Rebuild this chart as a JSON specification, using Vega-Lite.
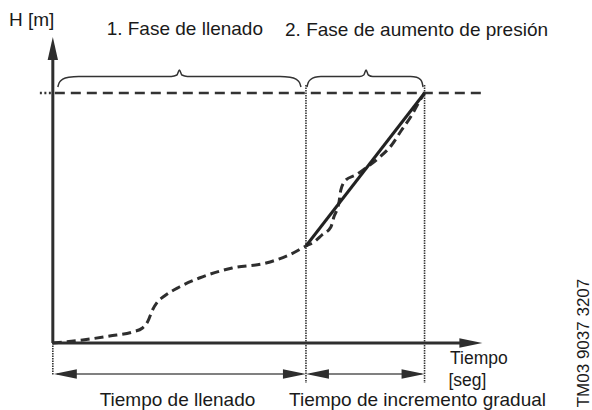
{
  "$schema": "https://vega.github.io/schema/vega-lite/v6.json",
  "width": 592,
  "height": 410,
  "padding": 0,
  "autosize": {"type": "fit", "contains": "padding"},
  "background": "white",
  "config": {"view": {"stroke": null}, "text": {"font": "Liberation Sans", "color": "#1a1a1a"}},
  "datasets": {
    "axes": [
      {"id": "y", "o": 0, "t": 0, "h": 0}, {"id": "y", "o": 1, "t": 0, "h": 285},
      {"id": "x", "o": 0, "t": 0, "h": 0}, {"id": "x", "o": 1, "t": 412, "h": 0}
    ],
    "lead": [{"o": 0, "t": -13, "h": 250}, {"o": 1, "t": -1, "h": 250}],
    "target": [{"o": 0, "t": 2, "h": 250}, {"o": 1, "t": 432, "h": 250}],
    "guides": [
      {"id": "a", "o": 0, "t": 254, "h": 258}, {"id": "a", "o": 1, "t": 254, "h": -40},
      {"id": "b", "o": 0, "t": 373, "h": 258}, {"id": "b", "o": 1, "t": 373, "h": -40},
      {"id": "c", "o": 0, "t": 0, "h": 0}, {"id": "c", "o": 1, "t": 0, "h": -32}
    ],
    "spans": [
      {"id": "fill", "o": 0, "t": 4, "h": -31}, {"id": "fill", "o": 1, "t": 250, "h": -31},
      {"id": "ramp", "o": 0, "t": 258, "h": -31}, {"id": "ramp", "o": 1, "t": 370, "h": -31}
    ],
    "heads": [
      {"dir": "up", "t": 0, "h": 306},
      {"dir": "right", "t": 431, "h": 0},
      {"dir": "left", "t": 1, "h": -31},
      {"dir": "right", "t": 254, "h": -31},
      {"dir": "left", "t": 254, "h": -31},
      {"dir": "right", "t": 373, "h": -31}
    ],
    "braces": [
      {"id": "b1", "t": 5, "h": 256}, {"id": "b1", "t": 6.5, "h": 260.5}, {"id": "b1", "t": 10, "h": 263.8}, {"id": "b1", "t": 16, "h": 265.8}, {"id": "b1", "t": 26, "h": 266.6},
      {"id": "b1", "t": 119, "h": 266.6}, {"id": "b1", "t": 124.5, "h": 268}, {"id": "b1", "t": 127, "h": 273},
      {"id": "b1", "t": 129.5, "h": 268}, {"id": "b1", "t": 135, "h": 266.6}, {"id": "b1", "t": 228, "h": 266.6},
      {"id": "b1", "t": 238, "h": 265.8}, {"id": "b1", "t": 244, "h": 263.8}, {"id": "b1", "t": 247.5, "h": 260.5}, {"id": "b1", "t": 249, "h": 256},
      {"id": "b2", "t": 255, "h": 256}, {"id": "b2", "t": 256.3, "h": 260.5}, {"id": "b2", "t": 259, "h": 263.8}, {"id": "b2", "t": 263, "h": 265.8}, {"id": "b2", "t": 269, "h": 266.6},
      {"id": "b2", "t": 308, "h": 266.6}, {"id": "b2", "t": 312, "h": 268}, {"id": "b2", "t": 314.3, "h": 273},
      {"id": "b2", "t": 316.6, "h": 268}, {"id": "b2", "t": 321, "h": 266.6}, {"id": "b2", "t": 359, "h": 266.6},
      {"id": "b2", "t": 365, "h": 265.8}, {"id": "b2", "t": 368.5, "h": 263.8}, {"id": "b2", "t": 370.5, "h": 260.5}, {"id": "b2", "t": 371.5, "h": 256}
    ],
    "actual": [
      {"t": 0, "h": 0}, {"t": 30, "h": 3}, {"t": 57, "h": 7}, {"t": 80, "h": 11}, {"t": 90, "h": 15},
      {"t": 95, "h": 21}, {"t": 100, "h": 33}, {"t": 105, "h": 41}, {"t": 112, "h": 47}, {"t": 127, "h": 56},
      {"t": 147, "h": 65}, {"t": 180, "h": 75}, {"t": 214, "h": 80}, {"t": 237, "h": 88}, {"t": 254, "h": 97},
      {"t": 262, "h": 101}, {"t": 270, "h": 108}, {"t": 279, "h": 116}, {"t": 282, "h": 126}, {"t": 287, "h": 140},
      {"t": 289, "h": 153}, {"t": 294, "h": 163}, {"t": 304, "h": 168}, {"t": 314, "h": 175}, {"t": 327, "h": 185},
      {"t": 340, "h": 198}, {"t": 350, "h": 213}, {"t": 359, "h": 226}, {"t": 368, "h": 242}, {"t": 373, "h": 250}
    ],
    "ideal": [{"t": 254, "h": 97}, {"t": 373, "h": 250}],
    "labels": [
      {"label": "H [m]", "t": -44, "h": 317},
      {"label": "1. Fase de llenado", "t": 54, "h": 308},
      {"label": "2. Fase de aumento de presión", "t": 233, "h": 307},
      {"label": "Tiempo de llenado", "t": 47, "h": -63},
      {"label": "Tiempo de incremento gradual", "t": 237, "h": -63}
    ],
    "xlabel": [{"label": "Tiempo", "t": 398.5, "h": -20.5}, {"label": "[seg]", "t": 397, "h": -42.5}],
    "code": [{"label": "TM03 9037 3207", "t": 538, "h": 0}]
  },
  "encoding": {
    "x": {"field": "t", "type": "quantitative", "scale": {"domain": [-53, 539], "nice": false, "zero": false}, "axis": null},
    "y": {"field": "h", "type": "quantitative", "scale": {"domain": [-67, 343], "nice": false, "zero": false}, "axis": null}
  },
  "layer": [
    {"data": {"name": "guides"}, "mark": {"type": "line", "stroke": "#333", "strokeWidth": 1.6, "strokeDash": [1.5, 1]},
     "encoding": {"detail": {"field": "id"}, "order": {"field": "o"}}},
    {"data": {"name": "lead"}, "mark": {"type": "line", "stroke": "#333", "strokeWidth": 2.4, "strokeDash": [2, 2.5]},
     "encoding": {"order": {"field": "o"}}},
    {"data": {"name": "target"}, "mark": {"type": "line", "stroke": "#333", "strokeWidth": 2.6, "strokeDash": [10, 6]},
     "encoding": {"order": {"field": "o"}}},
    {"data": {"name": "spans"}, "mark": {"type": "line", "stroke": "#808080", "strokeWidth": 2},
     "encoding": {"detail": {"field": "id"}, "order": {"field": "o"}}},
    {"data": {"name": "braces"}, "mark": {"type": "line", "stroke": "#333", "strokeWidth": 1.5, "interpolate": "monotone"},
     "encoding": {"detail": {"field": "id"}}},
    {"data": {"name": "axes"}, "mark": {"type": "line", "stroke": "#2e2e2e", "strokeWidth": 3},
     "encoding": {"detail": {"field": "id"}, "order": {"field": "o"}}},
    {"data": {"name": "actual"}, "mark": {"type": "line", "stroke": "#2e2e2e", "strokeWidth": 3, "strokeDash": [9, 5], "interpolate": "monotone"}},
    {"data": {"name": "ideal"}, "mark": {"type": "line", "stroke": "#222", "strokeWidth": 3}},
    {"data": {"name": "heads"}, "mark": {"type": "point", "filled": true, "opacity": 1, "color": "#2e2e2e", "strokeWidth": 0, "size": 529},
     "encoding": {"shape": {"field": "dir", "type": "nominal", "legend": null,
       "scale": {"domain": ["up", "right", "left"], "range": ["M 0 0 L 0.45 2 L -0.45 2 Z", "M 0 0 L -2 -0.42 L -2 0.42 Z", "M 0 0 L 2 -0.42 L 2 0.42 Z"]}}}},
    {"data": {"name": "labels"}, "mark": {"type": "text", "align": "left", "baseline": "alphabetic", "fontSize": 19},
     "encoding": {"text": {"field": "label"}}},
    {"data": {"name": "xlabel"}, "mark": {"type": "text", "align": "left", "baseline": "alphabetic", "fontSize": 17.5},
     "encoding": {"text": {"field": "label"}}},
    {"data": {"name": "code"}, "mark": {"type": "text", "align": "center", "baseline": "alphabetic", "fontSize": 17, "angle": 270},
     "encoding": {"text": {"field": "label"}}}
  ]
}
